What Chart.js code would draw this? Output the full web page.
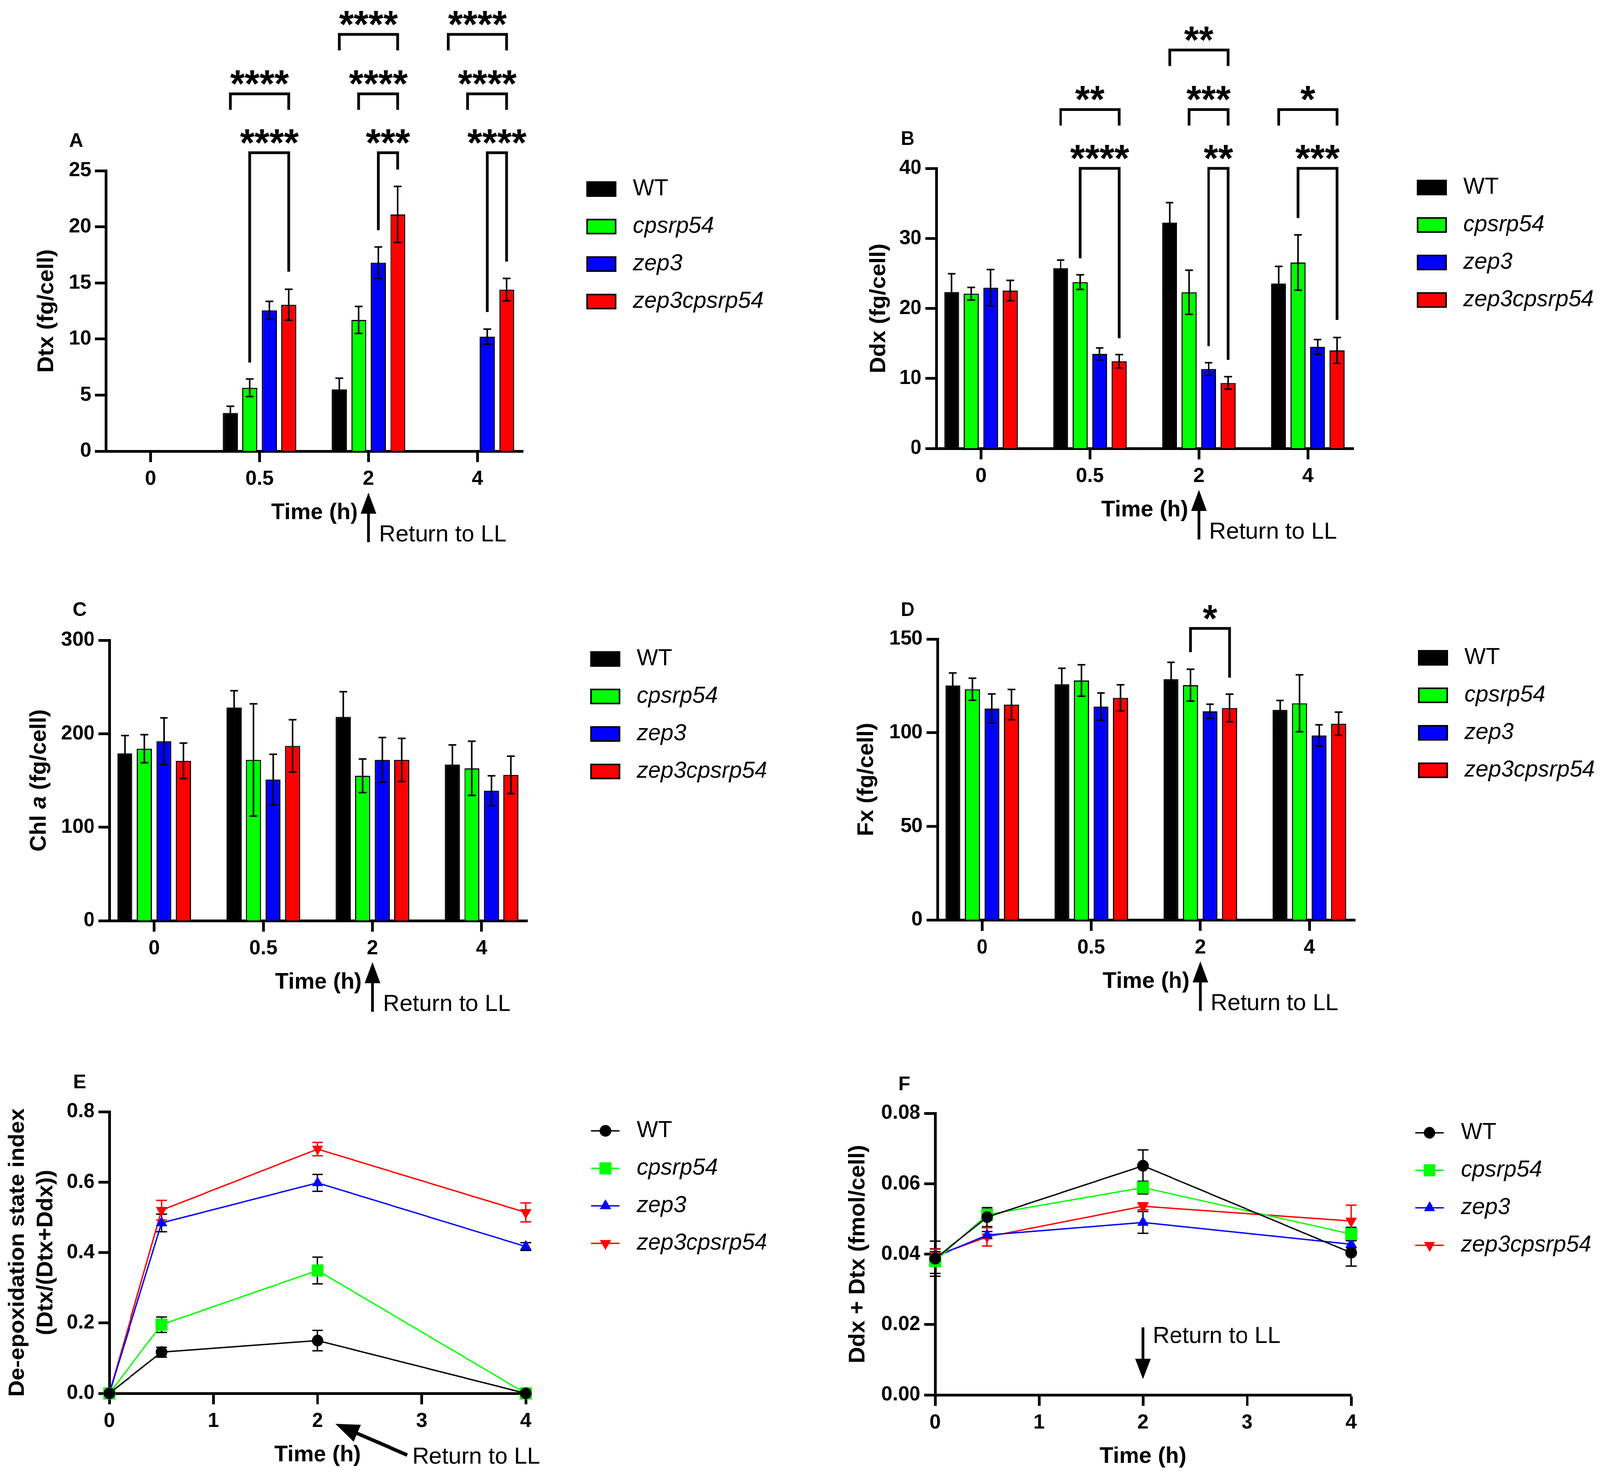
<!DOCTYPE html>
<html>
<head>
<meta charset="utf-8">
<script src="https://cdn.jsdelivr.net/npm/chart.js@4.4.1/dist/chart.umd.min.js"></script>
<style>
  html, body { margin: 0; padding: 0; background: #fff; overflow: hidden; }
  #page { width: 4139px; height: 3776px; position: relative; transform-origin: 0 0; }
  canvas { position: absolute; }
</style>
</head>
<body>
<div id="page"></div>
<script>
// categories / series
const times = ['0', '0.5', '2', '4'];
const lineTimes = [0, 0.5, 2, 4];
const strains = ['WT', 'cpsrp54', 'zep3', 'zep3cpsrp54'];
const colors = ['#000000', '#00ff00', '#0000ff', '#ff0000'];

// A: Dtx (fg/cell), rows = strains
const dtxMean = [[0, 3.4, 5.5, 0], [0, 5.65, 11.7, 0], [0, 12.55, 16.8, 10.2], [0, 13.05, 21.1, 14.4]];
const dtxErr = [[0, 0.6, 1.0, 0], [0, 0.78, 1.2, 0], [0, 0.8, 1.4, 0.68], [0, 1.38, 2.5, 1.0]];
// B: Ddx (fg/cell)
const ddxMean = [[22.35, 25.75, 32.25, 23.55], [22.1, 23.75, 22.3, 26.55], [22.95, 13.5, 11.35, 14.5], [22.55, 12.45, 9.35, 14.0]];
const ddxErr = [[2.6, 1.15, 2.85, 2.45], [0.9, 1.05, 3.15, 3.95], [2.6, 0.85, 0.9, 1.05], [1.45, 0.95, 0.9, 1.85]];
// C: Chl a (fg/cell)
const chlMean = [[179, 228, 218, 167], [184, 172, 155, 163], [192, 151, 172, 139], [171, 187, 172, 156]];
const chlErr = [[19, 18, 27, 21], [15, 60, 18, 29], [25, 27, 24, 16], [19, 28, 23, 20]];
// D: Fx (fg/cell)
const fxMean = [[125.2, 125.9, 128.6, 112.2], [123.2, 127.9, 125.4, 115.7], [112.9, 113.9, 111.4, 98.5], [115, 118.6, 113.2, 104.8]];
const fxErr = [[6.7, 8.5, 9, 5], [5.9, 8.4, 8.5, 15.2], [7.8, 7.3, 3.8, 5.7], [8.1, 7, 7.4, 6.2]];
// E: de-epoxidation state index
const depsMean = [[0, 0.117, 0.150, 0], [0, 0.195, 0.349, 0], [0, 0.484, 0.598, 0.417], [0, 0.520, 0.694, 0.514]];
const depsErr = [[0, 0.014, 0.029, 0], [0, 0.022, 0.038, 0], [0, 0.025, 0.024, 0.011], [0, 0.028, 0.019, 0.027]];
// F: Ddx + Dtx (fmol/cell)
const poolMean = [[0.0387, 0.0505, 0.0651, 0.0404], [0.0380, 0.0512, 0.0589, 0.0457], [0.0392, 0.0454, 0.0490, 0.0428], [0.0395, 0.0449, 0.0536, 0.0494]];
const poolErr = [[0.005, 0.0027, 0.0045, 0.0038], [0.0035, 0.0016, 0.0018, 0.0019], [0.0015, 0.001, 0.0031, 0.001], [0.0019, 0.0026, 0.001, 0.0045]];

// significance: [time index, from strain, to strain, bracket level, left leg end, right leg end, label]
const dtxSig = [
  [1, 1, 3, 26.6, 7.9, 16.0, '****'],
  [1, 0, 3, 31.85, null, null, '****'],
  [2, 2, 3, 26.6, 19.7, 25.1, '***'],
  [2, 1, 3, 31.85, null, null, '****'],
  [2, 0, 3, 37.15, null, null, '****'],
  [3, 2, 3, 26.6, 12.4, 16.9, '****'],
  [3, 1, 3, 31.85, null, null, '****'],
  [3, 0, 3, 37.15, null, null, '****']
];
const ddxSig = [
  [1, 1, 3, 40.0, 27.15, 15.75, '****'],
  [1, 0, 3, 48.4, null, null, '**'],
  [2, 2, 3, 40.0, 14.6, 12.65, '**'],
  [2, 1, 3, 48.4, null, null, '***'],
  [2, 0, 3, 56.9, null, null, '**'],
  [3, 1, 3, 40.0, 32.9, 18.35, '***'],
  [3, 0, 3, 48.4, null, null, '*']
];
const fxSig = [[2, 1, 3, 155.7, 143, 129.4, '*']];

const FAMILY = "'Liberation Sans', Arial, sans-serif";
Chart.defaults.font.family = FAMILY;
Chart.defaults.color = '#000';

// the page is laid out at 4139 px wide; squeeze it if the window is narrower
const page = document.getElementById('page');
const fitX = Math.min(1, window.innerWidth / 4139);
page.style.transform = 'scaleX(' + fitX + ')';

function font(size, weight, style) {
  return (style || 'normal') + ' ' + (weight || 'normal') + ' ' + size + 'px ' + FAMILY;
}

const markerStyles = ['circle', 'rect', 'triangle', 'triangle'];
const markerRot = [0, 0, 0, 180];
const markerRad = [15, 22, 17, 17];

function marker(ctx, i, x, y) {
  const r = markerRad[i];
  ctx.beginPath();
  if (markerStyles[i] === 'circle') {
    ctx.arc(x, y, r, 0, Math.PI * 2);
  } else if (markerStyles[i] === 'rect') {
    const s = r * Math.SQRT1_2;
    ctx.rect(x - s, y - s, 2 * s, 2 * s);
  } else {
    let a = markerRot[i] * Math.PI / 180;
    ctx.moveTo(x + Math.sin(a) * r, y - Math.cos(a) * r);
    a += 2 * Math.PI / 3;
    ctx.lineTo(x + Math.sin(a) * r, y - Math.cos(a) * r);
    a += 2 * Math.PI / 3;
    ctx.lineTo(x + Math.sin(a) * r, y - Math.cos(a) * r);
    ctx.closePath();
  }
  ctx.fill();
}

function arrow(ctx, x1, y1, x2, y2, head, halfW, lw) {
  const ang = Math.atan2(y2 - y1, x2 - x1);
  const bx = x2 - head * Math.cos(ang), by = y2 - head * Math.sin(ang);
  ctx.lineWidth = lw;
  ctx.beginPath();
  ctx.moveTo(x1, y1);
  ctx.lineTo(bx + Math.cos(ang), by + Math.sin(ang));
  ctx.stroke();
  ctx.beginPath();
  ctx.moveTo(x2, y2);
  ctx.lineTo(bx + halfW * Math.sin(ang), by - halfW * Math.cos(ang));
  ctx.lineTo(bx - halfW * Math.sin(ang), by + halfW * Math.cos(ang));
  ctx.closePath();
  ctx.fill();
}

function drawErrors(chart) {
  const ctx = chart.ctx, ys = chart.scales.y;
  const isBar = chart.config.type === 'bar';
  const c = isBar ? 10 : 14;
  ctx.save();
  ctx.lineWidth = isBar ? 4 : 3.5;
  chart.data.datasets.forEach((ds, i) => {
    const meta = chart.getDatasetMeta(i);
    ctx.strokeStyle = ds.errColor || '#000';
    meta.data.forEach((el, j) => {
      const e = ds.errors[j];
      if (!e) return;
      const v = ds.data[j].y;
      const y1 = ys.getPixelForValue(v - e), y2 = ys.getPixelForValue(v + e);
      const x = el.x;
      ctx.beginPath();
      ctx.moveTo(x, y1); ctx.lineTo(x, y2);
      ctx.moveTo(x - c, y1); ctx.lineTo(x + c, y1);
      ctx.moveTo(x - c, y2); ctx.lineTo(x + c, y2);
      ctx.stroke();
    });
  });
  ctx.restore();
}

const errorBarPlugin = {
  id: 'errorBars',
  beforeDatasetsDraw(chart) { if (chart.config.type === 'line') drawErrors(chart); },
  afterDatasetsDraw(chart) { if (chart.config.type === 'bar') drawErrors(chart); }
};

function drawBrackets(chart, sig) {
  const ctx = chart.ctx, ys = chart.scales.y;
  ctx.save();
  ctx.strokeStyle = '#000';
  ctx.fillStyle = '#000';
  ctx.lineWidth = 7;
  ctx.lineJoin = 'miter';
  ctx.font = font(98, 'bold');
  ctx.textAlign = 'center';
  ctx.textBaseline = 'alphabetic';
  sig.forEach(([g, a, b, level, endA, endB, label]) => {
    const xa = chart.getDatasetMeta(a).data[g].x;
    const xb = chart.getDatasetMeta(b).data[g].x;
    const y = ys.getPixelForValue(level);
    const ya = endA == null ? y + 41 : ys.getPixelForValue(endA);
    const yb = endB == null ? y + 41 : ys.getPixelForValue(endB);
    ctx.beginPath();
    ctx.moveTo(xa, ya); ctx.lineTo(xa, y); ctx.lineTo(xb, y); ctx.lineTo(xb, yb);
    ctx.stroke();
    ctx.fillText(label, (xa + xb) / 2, y + 8);
  });
  ctx.restore();
}

function drawDecor(chart, p) {
  const ctx = chart.ctx, area = chart.chartArea;
  const ox = p.rect[0], oy = p.rect[1];
  const xs = chart.scales.x, ys = chart.scales.y;
  ctx.save();
  ctx.fillStyle = '#000';
  ctx.strokeStyle = '#000';

  // panel letter
  ctx.font = font(50, 'bold');
  ctx.textAlign = 'center';
  ctx.textBaseline = 'middle';
  ctx.fillText(p.letter, p.letterPos[0] - ox, p.letterPos[1] - oy);

  // y title (rotated, may mix italic parts)
  const cyMid = (area.top + area.bottom) / 2;
  p.yTitle.forEach((line, k) => {
    ctx.save();
    ctx.translate(area.left - p.yTitleOff[k], cyMid);
    ctx.rotate(-Math.PI / 2);
    ctx.textBaseline = 'middle';
    ctx.textAlign = 'left';
    let total = 0;
    line.forEach(([t, it]) => { ctx.font = font(58, 'bold', it ? 'italic' : 'normal'); total += ctx.measureText(t).width; });
    let x = -total / 2;
    line.forEach(([t, it]) => {
      ctx.font = font(58, 'bold', it ? 'italic' : 'normal');
      ctx.fillText(t, x, 0);
      x += ctx.measureText(t).width;
    });
    ctx.restore();
  });

  // x title
  ctx.font = font(58, 'bold');
  ctx.textAlign = 'center';
  ctx.textBaseline = 'middle';
  ctx.fillText('Time (h)', (area.left + area.right) / 2, area.bottom + 158);

  // significance brackets
  if (p.sig) drawBrackets(chart, p.sig);

  // "Return to LL" arrow
  const x2 = xs.getPixelForValue(2);
  ctx.font = font(60);
  ctx.textAlign = 'left';
  ctx.textBaseline = 'alphabetic';
  if (p.arrow === 'up') {
    arrow(ctx, x2, area.bottom + 233, x2, area.bottom + 106, 54, 20, 7);
    ctx.fillText('Return to LL', x2 + 27, area.bottom + 231);
  } else if (p.arrow === 'diag') {
    arrow(ctx, x2 + 232, area.bottom + 158, x2 + 46, area.bottom + 78, 62, 24, 9);
    ctx.fillText('Return to LL', x2 + 245, area.bottom + 180);
  } else if (p.arrow === 'down') {
    arrow(ctx, x2, ys.getPixelForValue(0.0192), x2, ys.getPixelForValue(0.0045), 52, 20, 7);
    ctx.fillText('Return to LL', x2 + 25, ys.getPixelForValue(0.01476));
  }

  // legend
  const lx = p.legend[0] - ox, ly = p.legend[1] - oy;
  strains.forEach((s, i) => {
    const y = ly + i * 96;
    if (p.type === 'bar') {
      ctx.fillStyle = colors[i];
      ctx.fillRect(lx, y - 18, 74, 36);
      ctx.strokeStyle = '#000';
      ctx.lineWidth = 4;
      ctx.strokeRect(lx, y - 18, 74, 36);
    } else {
      ctx.strokeStyle = colors[i];
      ctx.fillStyle = colors[i];
      ctx.lineWidth = 3.5;
      ctx.beginPath(); ctx.moveTo(lx, y); ctx.lineTo(lx + 74, y); ctx.stroke();
      marker(ctx, i, lx + 37, y);
    }
    ctx.fillStyle = '#000';
    ctx.font = font(59, 'normal', i === 0 ? 'normal' : 'italic');
    ctx.textAlign = 'left';
    ctx.textBaseline = 'middle';
    ctx.fillText(s, lx + 118, y);
  });
  ctx.restore();
}

const panels = [
  { letter: 'A', type: 'bar', rect: [0, 0, 2070, 1420], area: [274, 437, 1353, 1155],
    mean: dtxMean, err: dtxErr, yMax: 25, yStep: 5, sig: dtxSig,
    yTitle: [[['Dtx (fg/cell)', false]]], yTitleOff: [153], letterPos: [197, 362], legend: [1519, 484], arrow: 'up' },
  { letter: 'B', type: 'bar', rect: [2070, 0, 2069, 1420], area: [2422, 431, 3501, 1148],
    mean: ddxMean, err: ddxErr, yMax: 40, yStep: 10, sig: ddxSig,
    yTitle: [[['Ddx (fg/cell)', false]]], yTitleOff: [148], letterPos: [2348, 357], legend: [3667, 480], arrow: 'up' },
  { letter: 'C', type: 'bar', rect: [0, 1420, 2070, 1280], area: [283, 1639, 1364, 2357],
    mean: chlMean, err: chlErr, yMax: 300, yStep: 100, sig: null,
    yTitle: [[['Chl ', false], ['a', true], [' (fg/cell)', false]]], yTitleOff: [181], letterPos: [206, 1563], legend: [1529, 1687], arrow: 'up' },
  { letter: 'D', type: 'bar', rect: [2070, 1420, 2069, 1280], area: [2425, 1636, 3505, 2355],
    mean: fxMean, err: fxErr, yMax: 150, yStep: 50, sig: fxSig,
    yTitle: [[['Fx (fg/cell)', false]]], yTitleOff: [183], letterPos: [2348, 1563], legend: [3670, 1684], arrow: 'up' },
  { letter: 'E', type: 'line', rect: [0, 2700, 2070, 1076], area: [283, 2846, 1360, 3567],
    mean: depsMean, err: depsErr, yMax: 0.8, yStep: 0.2, fmt: 1, sig: null,
    yTitle: [[['De-epoxidation state index', false]], [['(Dtx/(Dtx+Ddx))', false]]], yTitleOff: [237, 164],
    letterPos: [206, 2772], legend: [1529, 2895], arrow: 'diag' },
  { letter: 'F', type: 'line', rect: [2070, 2700, 2069, 1076], area: [2419, 2850, 3495, 3571],
    mean: poolMean, err: poolErr, yMax: 0.08, yStep: 0.02, fmt: 2, sig: null,
    yTitle: [[['Ddx + Dtx (fmol/cell)', false]]], yTitleOff: [199], letterPos: [2339, 2777], legend: [3661, 2900], arrow: 'down' }
];

function axisStyle() {
  return {
    grid: { display: true, drawOnChartArea: false, drawTicks: true, tickLength: 28, tickWidth: 7, tickColor: '#000', offset: false },
    border: { display: true, color: '#000', width: 7 }
  };
}

function buildConfig(p) {
  const [cx, cy, cw, ch] = p.rect;
  const [L, T, R, B] = p.area;
  const WY = 220, HX = 140;
  const isBar = p.type === 'bar';
  const datasets = strains.map((s, i) => isBar ? {
    label: s,
    data: p.mean[i].map((v, j) => ({ x: j, y: v })),
    errors: p.err[i],
    backgroundColor: colors[i],
    borderColor: '#000',
    borderWidth: 3,
    categoryPercentage: 0.716,
    barPercentage: 0.77
  } : {
    label: s,
    data: p.mean[i].map((v, j) => ({ x: lineTimes[j], y: v })),
    errors: p.err[i],
    errColor: i === 3 ? '#ff0000' : '#000000',
    borderColor: colors[i],
    backgroundColor: colors[i],
    borderWidth: 3.5,
    tension: 0,
    pointStyle: markerStyles[i],
    pointRotation: markerRot[i],
    pointRadius: markerRad[i],
    pointBorderWidth: 0,
    pointBackgroundColor: colors[i],
    clip: false
  });
  const xStyle = axisStyle(), yStyle = axisStyle();
  return {
    type: p.type,
    data: { datasets },
    options: {
      responsive: false,
      animation: false,
      devicePixelRatio: 1,
      events: [],
      layout: { padding: { left: L - cx - WY, right: cx + cw - R, top: T - cy, bottom: cy + ch - B - HX } },
      plugins: { legend: { display: false }, tooltip: { enabled: false } },
      scales: {
        x: {
          type: 'linear',
          min: isBar ? -0.41 : 0,
          max: isBar ? 3.418 : 4,
          offset: false,
          afterFit: s => { s.height = HX; },
          grid: xStyle.grid,
          border: xStyle.border,
          ticks: {
            stepSize: 1, includeBounds: false, autoSkip: false, maxRotation: 0, padding: 12,
            color: '#000', font: { size: 52, weight: 'bold' },
            callback: v => isBar ? (times[v] !== undefined ? times[v] : '') : String(v)
          }
        },
        y: {
          type: 'linear',
          min: 0,
          max: p.yMax,
          afterFit: s => { s.width = WY; },
          grid: yStyle.grid,
          border: yStyle.border,
          ticks: {
            stepSize: p.yStep, padding: 10, color: '#000', font: { size: 52, weight: 'bold' },
            callback: v => p.fmt ? v.toFixed(p.fmt) : String(v)
          }
        }
      }
    },
    plugins: [errorBarPlugin, { id: 'decor' + p.letter, afterDraw: chart => drawDecor(chart, p) }]
  };
}

panels.forEach(p => {
  const cv = document.createElement('canvas');
  cv.width = p.rect[2];
  cv.height = p.rect[3];
  cv.style.left = p.rect[0] + 'px';
  cv.style.top = p.rect[1] + 'px';
  cv.style.width = p.rect[2] + 'px';
  cv.style.height = p.rect[3] + 'px';
  page.appendChild(cv);
  new Chart(cv, buildConfig(p));
});
</script>
</body>
</html>
